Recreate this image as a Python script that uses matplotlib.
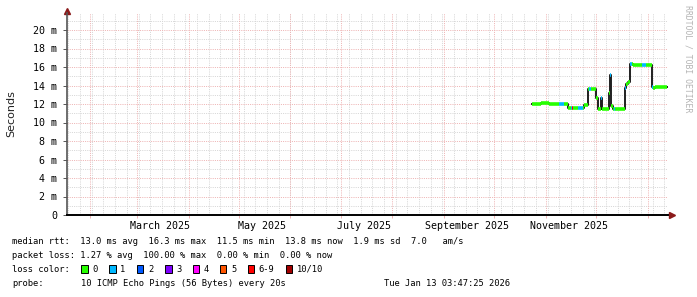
import numpy as np
import pandas as pd
import matplotlib
matplotlib.use("Agg")
import matplotlib.pyplot as plt
import matplotlib.dates as mdates
from matplotlib.patches import Rectangle

# ---- data (median rtt in ms) ----
seg_start = [
    "2025-10-23 20:00", "2025-10-28 23:00", "2025-11-02 18:00", "2025-11-08 18:00",
    "2025-11-11 18:00", "2025-11-13 23:30", "2025-11-16 06:00", "2025-11-16 20:40",
    "2025-11-17 11:00", "2025-11-20 04:00", "2025-11-23 04:00", "2025-11-23 23:00",
    "2025-11-25 23:30", "2025-11-26 18:00", "2025-11-27 23:00", "2025-12-01 06:00",
    "2025-12-01 23:30", "2025-12-04 06:00", "2025-12-04 18:00", "2025-12-08 22:30",
    "2025-12-09 13:00", "2025-12-10 06:00", "2025-12-11 04:00", "2025-12-11 18:00",
    "2025-12-12 16:00", "2025-12-18 04:00", "2025-12-18 23:00", "2025-12-19 23:30",
    "2025-12-21 13:00", "2025-12-22 13:30", "2025-12-23 11:00", "2025-12-28 13:30",
    "2025-12-30 23:00", "2026-01-03 18:00", "2026-01-04 11:00", "2026-01-05 16:00",
]
seg_end_last = "2026-01-12 13:30"
rtt_ms = [
    12.05, 12.15, 12.0, 12.0,
    11.95, 11.55, 11.55, 11.55,
    11.55, 11.55, 11.55, 11.9,
    13.6, 13.6, 13.6, 12.7,
    11.5, 12.6, 11.5, 13.2,
    15.1, 11.8, 11.5, 11.5,
    11.5, 13.7, 14.2, 14.4,
    16.3, 16.3, 16.2, 16.2,
    16.2, 13.8, 13.7, 13.85,
]
loss_idx = [
    0, 0, 0, 1,
    0, 0, 1, 6,
    0, 1, 0, 0,
    0, 1, 0, 0,
    0, 1, 0, 0,
    1, 0, 0, 1,
    0, 1, 0, 0,
    1, 0, 0, 1,
    0, 1, 0, 0,
]

loss_labels = ["0", "1", "2", "3", "4", "5", "6-9", "10/10"]
loss_colors = ["#26ff00", "#00b8ff", "#0059ff", "#7e00ff", "#ff00ff", "#ff5500", "#ff0000", "#a10000"]

t_begin = pd.Timestamp("2025-01-18 03:47:25")
t_end = pd.Timestamp("2026-01-13 03:47:25")
label_months = ["2025-03-15", "2025-05-15", "2025-07-15", "2025-09-15", "2025-11-15"]
label_text = ["March 2025", "May 2025", "July 2025", "September 2025", "November 2025"]

legend_rtt = "median rtt:  13.0 ms avg  16.3 ms max  11.5 ms min  13.8 ms now  1.9 ms sd  7.0   am/s"
legend_loss = "packet loss: 1.27 % avg  100.00 % max  0.00 % min  0.00 % now"
probe_text = "10 ICMP Echo Pings (56 Bytes) every 20s"
stamp_text = "Tue Jan 13 03:47:25 2026"

# ---- figure ----
W, H = 697, 297
fig = plt.figure(figsize=(W / 100, H / 100), dpi=100)
ax = fig.add_axes([67 / W, (H - 215) / H, (668 - 67) / W, (215 - 13) / H])
mono = "DejaVu Sans Mono"

x0 = mdates.date2num(t_begin)
x1 = mdates.date2num(t_end)
ax.set_xlim(x0, x1)
ymax = (215 - 13) / 9.25
ax.set_ylim(0, ymax)

# grid (rrdtool style dotted)
px = 0.72
dot = (0, (1, 1.2))
gray, pink = "#d6d6d6", "#eeb4b4"
weeks = pd.date_range(t_begin.normalize(), t_end, freq="W-SUN")
months = pd.date_range("2025-02-01", t_end, freq="MS")
ax.vlines(mdates.date2num(weeks), 0, ymax, colors=gray, lw=px, linestyles=dot, zorder=1)
for v in range(1, 22, 2):
    ax.axhline(v, color=gray, lw=px, ls=dot, zorder=1)
ax.vlines(mdates.date2num(months), 0, ymax, colors=pink, lw=px, linestyles=dot, zorder=1.5)
for v in range(2, 22, 2):
    ax.axhline(v, color=pink, lw=px, ls=dot, zorder=1.5)

# median line + loss coloured segments
starts = mdates.date2num(pd.to_datetime(seg_start))
ends = np.append(starts[1:], mdates.date2num(pd.Timestamp(seg_end_last)))
ax.step(np.append(starts, ends[-1]), np.append(rtt_ms, rtt_ms[-1]), where="post",
        color="#202020", lw=1.4, zorder=3)
ax.hlines(rtt_ms, starts, ends, colors=[loss_colors[i] for i in loss_idx], lw=2.6,
          zorder=4, capstyle="butt")

# axes
for s in ["top", "right"]:
    ax.spines[s].set_visible(False)
ax.spines["bottom"].set_color("black")
ax.spines["bottom"].set_linewidth(1.4)
ax.spines["left"].set_color("#555555")
ax.spines["left"].set_linewidth(1.2)
ax.plot([1.007], [0], marker=">", color="#8b1a1a", ms=4, transform=ax.transAxes, clip_on=False)
ax.plot([0], [1.01], marker="^", color="#8b1a1a", ms=4, transform=ax.transAxes, clip_on=False)

ax.set_yticks(range(0, 21, 2))
ax.set_yticklabels(["0"] + [f"{v} m" for v in range(2, 21, 2)], fontfamily=mono, fontsize=7.2)
ax.tick_params(axis="y", length=3, width=0.7, color="#555555", pad=4)
ax.set_xticks(mdates.date2num(pd.to_datetime(label_months)))
ax.set_xticklabels(label_text, fontfamily=mono, fontsize=7.2)
ax.tick_params(axis="x", length=0, pad=4)
ax.set_xticks(mdates.date2num(months), minor=True)
ax.tick_params(axis="x", which="minor", length=2.5, width=0.7, color=pink)

fig.text(11 / W, 1 - 113.5 / H, "Seconds", rotation=90, ha="center", va="center",
         fontsize=8, color="#222222")
fig.text(688 / W, 1 - 5 / H, "RRDTOOL / TOBI OETIKER", rotation=270, ha="center", va="top",
         fontfamily=mono, fontsize=5.9, color="#b4b4b4")

# legend block
fs = 6.3
def fy(y):
    return 1 - y / H
fig.text(12 / W, fy(241), legend_rtt, fontfamily=mono, fontsize=fs, va="center")
fig.text(12 / W, fy(255.7), legend_loss, fontfamily=mono, fontsize=fs, va="center")
fig.text(12 / W, fy(269), "loss color:", fontfamily=mono, fontsize=fs, va="center")
box_x = [81, 109.3, 136.7, 165, 192.7, 220, 247.7, 285.7]
lab_x = [92.7, 120, 148.3, 176, 204, 231, 258.3, 296.7]
for bx, lx, lab, col in zip(box_x, lab_x, loss_labels, loss_colors):
    fig.patches.append(Rectangle((bx / W, fy(272.7)), 6.5 / W, 7.7 / H, transform=fig.transFigure,
                                 facecolor=col, edgecolor="black", lw=0.7))
    fig.text(lx / W, fy(269), lab, fontfamily=mono, fontsize=fs, va="center")
fig.text(12 / W, fy(283.3), "probe:", fontfamily=mono, fontsize=fs, va="center")
fig.text(81 / W, fy(283.3), probe_text, fontfamily=mono, fontsize=fs, va="center")
fig.text(510 / W, fy(283.3), stamp_text, fontfamily=mono, fontsize=fs, va="center", ha="right")

fig.savefig("out.png", dpi=100)
